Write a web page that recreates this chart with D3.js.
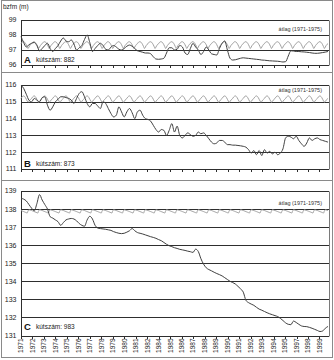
<!DOCTYPE html>
<html>
<head>
<meta charset="utf-8">
<script src="https://cdn.jsdelivr.net/npm/d3@7"></script>
<style>
  html, body { margin: 0; padding: 0; background: #fff; }
  svg { display: block; font-family: "Liberation Sans", Arial, sans-serif; }
</style>
</head>
<body>
<svg id="chart" width="334" height="360"></svg>
<script>
// Category labels of the shared time axis (as printed under the bottom panel)
const tickLabels = ["1971","1972","1973","1974","1975","1976","1977","1978","1979","1980",
  "1981","1982","1984","1985","1986","1987","1988","1989","1990","1991","1992","1993",
  "1994","1995","1997","1998","1999"];
// Years covered by one label step of the category axis
const labelStepYears = 1.0847;

// Monthly mean water level 1971–1975 (Jan..Dec), repeated every year
const avgA = [97.42, 97.50, 97.55, 97.55, 97.52, 97.45, 97.35, 97.22, 97.10, 97.20, 97.30, 97.38];
const avgB = [115.20, 115.28, 115.33, 115.35, 115.32, 115.25, 115.15, 115.05, 114.98, 115.02, 115.10, 115.15];
const avgC = [137.92, 137.90, 137.88, 137.86, 137.84, 137.82, 137.80, 137.78, 137.90, 137.96, 137.95, 137.93];

// Quarterly water levels (m above Baltic), 1971.00 .. 2000.00
const levelA = [
  97.90, 97.50, 97.20, 97.35,   97.45, 97.50, 97.30, 96.95,   97.10, 97.30, 97.45, 97.10,
  96.90, 97.10, 97.30, 97.60,   97.80, 97.60, 97.55, 97.67,   97.40, 97.00, 97.15, 97.30,
  97.70, 98.00, 97.50, 96.90,   97.10, 97.30, 97.45, 97.30,   97.05, 97.00, 97.20, 97.30,
  97.20, 97.05, 97.00, 97.10,   97.25, 97.33, 97.25, 97.10,   96.95, 96.90, 96.85, 96.80,
  96.80, 96.75, 96.55, 96.40,   96.38, 96.40, 96.45, 96.80,   97.15, 97.15, 97.00, 97.05,
  97.30, 97.20, 96.80, 96.70,   97.10, 97.44, 97.20, 97.00,   96.70, 96.90, 97.20, 97.00,
  96.75, 96.70, 96.67, 97.10,   97.45, 97.60, 97.00, 96.45,   96.33, 96.35, 96.40, 96.45,
  96.48, 96.46, 96.44, 96.42,   96.40, 96.38, 96.36, 96.33,   96.32, 96.30, 96.28, 96.27,
  96.26, 96.25, 96.23, 96.20,   96.22, 96.60, 96.95, 96.93,   96.90, 96.90, 96.88, 96.87,
  96.85, 96.83, 96.80, 96.78,   96.78, 96.80, 96.83, 96.86,   96.90];
const levelB = [
  116.00, 115.80, 115.45, 115.10,   115.00, 115.20, 115.10, 115.00,   115.25, 115.30, 114.80, 114.50,
  114.70, 115.00, 115.15, 115.30,   115.30, 115.25, 115.20, 115.10,   114.90, 115.20, 115.50, 115.60,
  115.30, 114.90, 114.70, 114.90,   114.90, 114.75, 114.60, 115.00,   114.90, 114.60, 114.30, 114.10,
  114.20, 114.70, 114.40, 114.10,   114.40, 114.60, 114.35, 114.00,   114.40, 114.50, 114.20, 114.00,
  113.95, 113.85, 113.60, 113.35,   113.20, 113.35, 113.30, 113.00,   113.30, 113.70, 113.20, 113.55,
  113.00, 112.85, 113.00, 113.15,   113.05, 112.95, 113.00, 113.20,   113.10, 113.15, 113.00, 112.80,
  112.60, 112.50, 112.55, 112.70,   112.70, 112.60, 112.45, 112.45,   112.42, 112.42, 112.40, 112.38,
  112.35, 112.30, 112.15, 111.95,   112.10, 111.85, 112.10, 111.80,   112.15, 111.95, 112.05, 111.90,
  112.00, 111.85, 111.95, 112.20,   112.85, 112.95, 112.90, 112.80,   112.95, 112.70, 112.50, 112.35,
  112.55, 112.85, 112.70, 112.80,   112.85, 112.75, 112.70, 112.65,   112.60];
const levelC = [
  138.60, 138.55, 138.45, 138.25,   138.05, 137.90, 138.30, 138.80,   138.50, 138.25, 138.00, 137.58,
  137.50, 137.40, 137.30, 137.10,   137.25, 137.40, 137.45, 137.48,   137.45, 137.35, 137.20, 137.10,
  137.05, 137.40, 137.60, 137.45,   137.10, 136.95, 136.92, 136.90,   136.88, 136.85, 136.82, 136.75,
  136.70, 136.66, 136.64, 136.66,   136.72, 136.80, 136.92, 136.80,   136.70, 136.66, 136.62, 136.57,
  136.52, 136.47, 136.43, 136.38,   136.31, 136.25, 136.15, 136.05,   135.97, 135.92, 135.86, 135.82,
  135.77, 135.74, 135.71, 135.67,   135.64, 135.60, 135.78, 135.65,   135.25, 134.95, 134.75, 134.65,
  134.58, 134.50, 134.43, 134.37,   134.30, 134.20, 134.10, 134.00,   133.93, 133.85, 133.72, 133.58,
  133.40, 132.95, 132.82, 132.74,   132.67, 132.56, 132.46, 132.40,   132.33, 132.26, 132.20, 132.15,
  132.10, 132.05, 131.95, 131.83,   131.70, 131.62, 131.60, 131.80,   131.72, 131.62, 131.53, 131.50,
  131.49, 131.45, 131.40, 131.34,   131.28, 131.22, 131.25, 131.40,   131.50];

const wells = [
  { letter: "A", well: "kútszám: 882", avg: avgA, level: levelA, yMin: 96,  yMax: 99,  top: 20,  bottom: 65,    avgLabelY: 31,  wellLabelY: 62 },
  { letter: "B", well: "kútszám: 873", avg: avgB, level: levelB, yMin: 111, yMax: 116, top: 85,  bottom: 169,   avgLabelY: 92,  wellLabelY: 165.5 },
  { letter: "C", well: "kútszám: 983", avg: avgC, level: levelC, yMin: 131, yMax: 139, top: 191, bottom: 335.5, avgLabelY: 205, wellLabelY: 329 }
];

const svg = d3.select("#chart");
const startYear = 1971;
const x = d3.scaleLinear().domain([1971, 2000.1]).range([21, 329]);
const tickYears = tickLabels.map((d, i) => startYear + i * labelStepYears);

// outer frame and panel separators
svg.append("rect").attr("x", 1.5).attr("y", 0.5).attr("width", 331).attr("height", 357)
  .attr("fill", "#fff").attr("stroke", "#8a8a8a");
[72.5, 180.5].forEach(yy => svg.append("line").attr("x1", 1.5).attr("x2", 332.5)
  .attr("y1", yy).attr("y2", yy).attr("stroke", "#8a8a8a"));

svg.append("text").attr("x", 3).attr("y", 9).attr("font-size", 6.5).attr("fill", "#222").text("bzfm (m)");

wells.forEach((p, pi) => {
  const y = d3.scaleLinear().domain([p.yMin, p.yMax]).range([p.bottom, p.top]);
  const g = svg.append("g");

  // horizontal grid at every metre
  const yTicks = d3.range(p.yMin, p.yMax + 1);
  g.selectAll("line.grid").data(yTicks).join("line")
    .attr("x1", x.range()[0]).attr("x2", x.range()[1])
    .attr("y1", d => Math.round(y(d)) + 0.5).attr("y2", d => Math.round(y(d)) + 0.5)
    .attr("stroke", "#2e2e2e").attr("stroke-width", 1);

  // plot area sides
  [x.range()[0], x.range()[1]].forEach((xx, k) => g.append("line")
    .attr("x1", Math.round(xx) + 0.5).attr("x2", Math.round(xx) + 0.5)
    .attr("y1", Math.round(p.top) + 0.5).attr("y2", Math.round(p.bottom) + 0.5)
    .attr("stroke", k === 0 ? "#2e2e2e" : "#7a7a7a"));

  // y labels
  g.selectAll("text.ylab").data(yTicks).join("text")
    .attr("x", 16.5).attr("y", d => y(d)).attr("dy", "0.35em")
    .attr("text-anchor", "end").attr("font-size", 7).attr("fill", "#222")
    .text(d => d);

  // x tick marks
  g.selectAll("line.xt").data(tickYears).join("line")
    .attr("x1", d => Math.round(x(d)) + 0.5).attr("x2", d => Math.round(x(d)) + 0.5)
    .attr("y1", Math.round(p.bottom) + 0.5).attr("y2", Math.round(p.bottom) + 3)
    .attr("stroke", "#2e2e2e");

  // 1971–1975 monthly average, repeated over the whole period
  const avgSeries = [];
  for (let yr = 1971; yr < 2000; yr++) {
    p.avg.forEach((v, m) => avgSeries.push([yr + m / 12, v]));
  }
  avgSeries.push([2000, p.avg[0]]);
  g.append("path").datum(avgSeries)
    .attr("fill", "none").attr("stroke", "#a0a0a0").attr("stroke-width", 1)
    .attr("d", d3.line().x(d => x(d[0])).y(d => y(d[1])).curve(d3.curveMonotoneX));

  // observed water level
  const obs = p.level.map((v, i) => [startYear + i / 4, v]);
  g.append("path").datum(obs)
    .attr("fill", "none").attr("stroke", "#404040").attr("stroke-width", 1)
    .attr("d", d3.line().x(d => x(d[0])).y(d => y(d[1])).curve(d3.curveMonotoneX));

  // labels
  g.append("text").attr("x", 322).attr("y", p.avgLabelY).attr("text-anchor", "end")
    .attr("font-size", 5.5).attr("fill", "#333").text("átlag (1971-1975)");
  g.append("text").attr("x", 24).attr("y", p.wellLabelY + 1).attr("font-size", 9.5)
    .attr("font-weight", "bold").attr("fill", "#111").text(p.letter);
  g.append("text").attr("x", 36).attr("y", p.wellLabelY).attr("font-size", 6.5)
    .attr("fill", "#222").text(p.well);

  // rotated year labels under the bottom panel
  if (pi === wells.length - 1) {
    g.selectAll("text.xl").data(tickLabels).join("text")
      .attr("transform", (d, i) => `translate(${x(tickYears[i])},${p.bottom + 3}) rotate(-90)`)
      .attr("text-anchor", "end").attr("dy", "0.35em")
      .attr("font-size", 6.5).attr("fill", "#222").text(d => d);
  }
});
</script>
</body>
</html>
